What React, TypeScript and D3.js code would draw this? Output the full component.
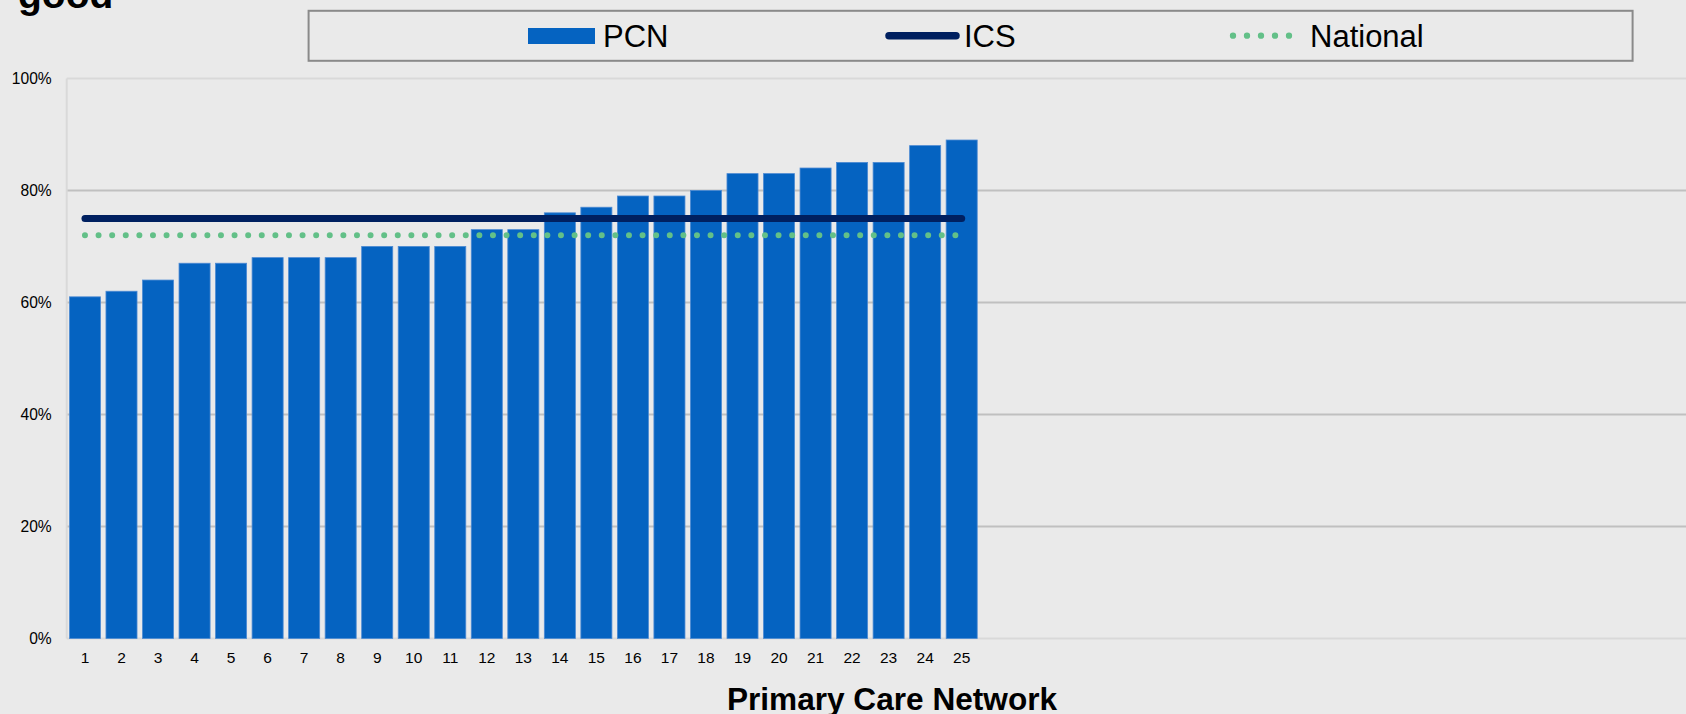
import React from "react";
import * as d3 from "d3";

const categories: string[] = Array.from({ length: 25 }, (_, i) => String(i + 1));
const pcnValues: number[] = [61, 62, 64, 67, 67, 68, 68, 68, 70, 70, 70, 73, 73, 76, 77, 79, 79, 80, 83, 83, 84, 85, 85, 88, 89];
const icsValue = 75;
const nationalValue = 72;
const yTicks: number[] = [0, 20, 40, 60, 80, 100];
const legendLabels: string[] = ["PCN", "ICS", "National"];

const W = 1686;
const H = 714;
const BG = "#eaeaea";
const BAR = "#0563c1";
const ICS = "#002060";
const NAT = "#63c088";

export default function App() {
  const left = 66.7;
  const step = 36.53;
  const plotRight = 1716;
  const x = d3
    .scaleBand<string>()
    .domain(categories)
    .range([left, left + step * categories.length])
    .paddingInner(0.15)
    .paddingOuter(0.075);
  const y = d3.scaleLinear().domain([0, 100]).range([638.5, 78.4]);

  const c0 = (x(categories[0]) ?? 0) + x.bandwidth() / 2;
  const cN = (x(categories[categories.length - 1]) ?? 0) + x.bandwidth() / 2;
  const line = d3.line<number>().x((d) => d).y(() => 0);

  return (
    <svg
      width={W}
      height={H}
      style={{ position: "absolute", left: 0, top: 0, background: BG }}
      fontFamily="Liberation Sans, Arial, sans-serif"
    >
      <rect x={0} y={0} width={W} height={H} fill={BG} />
      {/* title fragment */}
      <text x={18} y={8} fontSize={39} fontWeight="bold" fill="#000">good</text>

      {/* legend */}
      <rect x={308.6} y={10.8} width={1324} height={50} fill="none" stroke="#8a8a8a" strokeWidth={2} />
      <rect x={528} y={28} width={67} height={16} fill={BAR} />
      <text x={603} y={46.5} fontSize={31} fill="#000">{legendLabels[0]}</text>
      <line x1={889} x2={956} y1={35.7} y2={35.7} stroke={ICS} strokeWidth={7.5} strokeLinecap="round" />
      <text x={964} y={46.5} fontSize={31} fill="#000">{legendLabels[1]}</text>
      <line x1={1233} x2={1290} y1={35.7} y2={35.7} stroke={NAT} strokeWidth={6.3} strokeLinecap="round" strokeDasharray="0 14" />
      <text x={1310} y={46.5} fontSize={31} fill="#000">{legendLabels[2]}</text>

      {/* gridlines */}
      {yTicks.map((t) => (
        <line
          key={t}
          x1={left}
          x2={plotRight}
          y1={y(t)}
          y2={y(t)}
          stroke={t === 0 || t === 100 ? "#d9d9d9" : "#c0c0c0"}
          strokeWidth={2}
        />
      ))}
      <line x1={left} x2={left} y1={y(100)} y2={y(0)} stroke="#d9d9d9" strokeWidth={2} />

      {/* y tick labels */}
      {yTicks.map((t) => (
        <text key={t} x={51.7} y={y(t)} dy="0.35em" textAnchor="end" fontSize={15.6} fill="#000">
          {t}%
        </text>
      ))}

      {/* bars */}
      {pcnValues.map((v, i) => (
        <rect
          key={i}
          x={x(categories[i])}
          y={y(v)}
          width={x.bandwidth()}
          height={y(0) - y(v)}
          fill={BAR}
          stroke="#4d8ad3"
          strokeWidth={0.8}
        />
      ))}

      {/* ICS line */}
      <path
        d={line([c0, cN]) ?? ""}
        transform={`translate(0,${y(icsValue)})`}
        stroke={ICS}
        strokeWidth={7}
        strokeLinecap="round"
        fill="none"
      />
      {/* National dotted line */}
      <path
        d={line([c0, cN]) ?? ""}
        transform={`translate(0,${y(nationalValue)})`}
        stroke={NAT}
        strokeWidth={6}
        strokeLinecap="round"
        strokeDasharray="0 13.6"
        fill="none"
      />

      {/* x tick labels */}
      {categories.map((c) => (
        <text
          key={c}
          x={(x(c) ?? 0) + x.bandwidth() / 2}
          y={663.3}
          textAnchor="middle"
          fontSize={15.5}
          fill="#000"
        >
          {c}
        </text>
      ))}

      {/* x axis title */}
      <text x={892} y={710} textAnchor="middle" fontSize={31.6} fontWeight="bold" fill="#000">
        Primary Care Network
      </text>
    </svg>
  );
}
